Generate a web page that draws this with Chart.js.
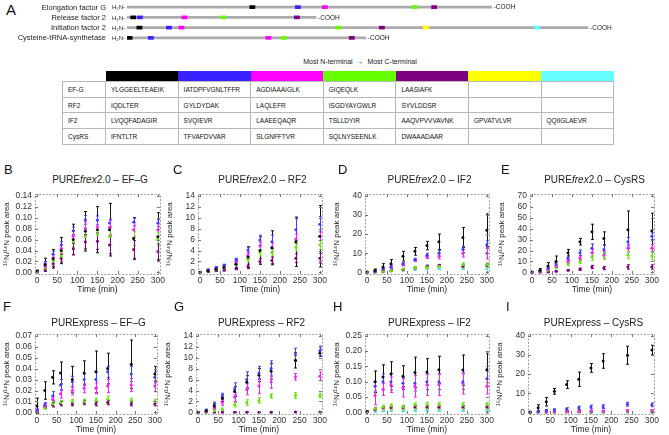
<!DOCTYPE html>
<html>
<head>
<meta charset="utf-8">
<script src="https://cdn.jsdelivr.net/npm/chart.js@4.4.0/dist/chart.umd.min.js"></script>
<style>
body { margin:0; width:669px; height:435px; overflow:hidden; background:#fff; position:relative; font-family:"Liberation Sans", Arial, sans-serif; color:#222; }
canvas { position:absolute; }
.letter { position:absolute; font-size:13px; line-height:13px; color:#111; }
.ptitle { position:absolute; font-size:10px; line-height:12px; white-space:nowrap; transform:translateX(-50%); color:#222; }
#arrowText { position:absolute; left:360px; top:58px; transform:translateX(-50%); font-size:7px; white-space:nowrap; }
#pep { position:absolute; left:62px; top:71px; border-collapse:collapse; table-layout:fixed; font-size:6.5px; color:#111; }
#pep td { border:1px solid #b8b8b8; padding:0 0 0 5px; height:14.7px; white-space:nowrap; overflow:hidden; }
#pep tr.head td { height:10px; border:none; padding:0; }
</style>
</head>
<body>
<div class="letter" style="left:6px;top:3px;font-size:15px">A</div>
<canvas id="proteins" width="669" height="46" style="left:0;top:0"></canvas>
<div id="arrowText">Most N-terminal &nbsp;→&nbsp; Most C-terminal</div>
<table id="pep"></table>

<script>
// ---- panel A data ----
const proteinNames = ["Elongation factor G", "Release factor 2", "Initiation factor 2", "Cysteine-tRNA-synthetase"];
const proteinLengths = [704, 365, 890, 461];
const rowNames = ["EF-G", "RF2", "IF2", "CysRS"];
const efgPeptides = ["YLGGEELTEAEIK", "IATDPFVGNLTFFR", "AGDIAAAIGLK", "GIQEQLK", "LAASIAFK", "", ""];
const rf2Peptides = ["IQDLTER", "GYLDYDAK", "LAQLEFR", "ISGDYAYGWLR", "SYVLDDSR", "", ""];
const if2Peptides = ["LVQQFADAGIR", "SVQIEVR", "LAAEEQAQR", "TSLLDYIR", "AAQVPVVVAVNK", "GPVATVLVR", "QQIIGLAEVR"];
const cysPeptides = ["IFNTLTR", "TFVAFDVVAR", "SLGNFFTVR", "SQLNYSEENLK", "DWAAADAAR", "", ""];
// approx residue position (centre) of each peptide, per colour, per protein [EF-G, RF2, IF2, CysRS]
const blackPos = [242, 12, 24, 5];
const bluePos = [330, 25, 81, 46];
const magentaPos = [382, 111, 105, 273];
const greenPos = [555, 186, 408, 303];
const purplePos = [593, 328, 492, 434];
const yellowPos = [null, null, 577, null];
const cyanPos = [null, null, 791, null];
const mapColors = ["#000000", "#3a22ff", "#ff00ff", "#66ff00", "#7f007f", "#ffff00", "#66ffff"];

// ---- time course data (order: black, blue, magenta, green, purple, yellow, cyan) ----
const times = [0, 20, 40, 60, 90, 120, 150, 180, 240, 300];
const xTicks = [0, 50, 100, 150, 200, 250, 300];
const dotColors = ["#111111", "#3d3dff", "#ff1aff", "#5fe800", "#800080", "#f2cc00", "#40e8e8"];

// B  PUREfrex2.0 - EF-G
const frexEfgMean = [
  [0.002,0.014,0.025,0.040,0.060,0.075,0.078,0.078,0.062,0.065],
  [0.002,0.016,0.033,0.050,0.076,0.096,0.095,0.090,0.092,0.090],
  [0.002,0.011,0.027,0.043,0.066,0.080,0.083,0.082,0.078,0.078],
  [0.001,0.008,0.021,0.030,0.056,0.066,0.070,0.066,0.062,0.060],
  [0.001,0.005,0.016,0.026,0.043,0.056,0.057,0.050,0.042,0.038]];
const frexEfgErr = [
  [0.002,0.012,0.017,0.024,0.028,0.036,0.042,0.048,0.038,0.044],
  [0.002,0.004,0.006,0.006,0.007,0.008,0.008,0.007,0.007,0.006],
  [0.002,0.004,0.006,0.008,0.010,0.012,0.013,0.013,0.013,0.011],
  [0.001,0.003,0.005,0.008,0.010,0.012,0.013,0.015,0.013,0.012],
  [0.001,0.003,0.005,0.007,0.010,0.013,0.015,0.016,0.016,0.014]];
const frexEfgTicks = [0, 0.02, 0.04, 0.06, 0.08, 0.10, 0.12, 0.14];

// C  PUREfrex2.0 - RF2
const frexRf2Mean = [
  [0.05,0.3,0.6,0.9,1.5,2.8,4.0,4.5,5.6,6.6],
  [0.05,0.5,0.9,1.3,2.3,4.1,5.9,5.6,7.8,8.8],
  [0.04,0.4,0.7,1.0,1.8,3.2,4.8,4.6,6.1,6.6],
  [0.03,0.3,0.5,0.8,1.5,2.4,3.6,3.6,4.6,5.0],
  [0.02,0.2,0.3,0.4,0.7,1.1,2.0,2.2,2.6,2.6]];
const frexRf2Err = [
  [0.03,0.2,0.3,0.5,0.8,1.9,2.5,3.1,4.5,5.6],
  [0.03,0.1,0.15,0.2,0.3,0.5,0.9,1.2,2.0,1.4],
  [0.02,0.1,0.1,0.2,0.3,0.5,0.7,0.8,0.9,0.8],
  [0.02,0.1,0.1,0.2,0.3,0.5,0.6,0.6,0.7,0.8],
  [0.01,0.1,0.1,0.1,0.2,0.4,0.5,0.6,0.8,0.9]];
const frexRf2Ticks = [0, 2, 4, 6, 8, 10, 12, 14];

// D  PUREfrex2.0 - IF2
const frexIf2Mean = [
  [0.2,1.2,2.8,4.5,8.5,11.0,14.0,16.0,18.2,22.0],
  [0.1,0.6,1.8,3.0,4.6,6.8,9.0,10.0,12.0,14.5],
  [0.1,0.4,1.5,2.6,4.2,6.5,8.0,8.5,10.0,10.0],
  [0.05,0.2,0.6,1.0,1.8,2.4,2.8,3.3,4.2,4.0],
  [0.05,0.2,0.5,1.0,1.6,2.3,3.3,3.6,3.2,3.6],
  [0.03,0.15,0.4,0.8,1.3,2.6,2.6,3.0,3.0,3.2],
  [0.02,0.1,0.3,0.6,1.0,1.5,1.8,2.0,2.0,2.0]];
const frexIf2Err = [
  [0.1,0.6,1.8,2.2,2.5,2.0,2.2,4.0,5.2,8.5],
  [0.1,0.3,0.6,0.8,0.6,0.6,1.0,1.5,1.6,2.0],
  [0.1,0.2,0.5,1.0,0.8,0.7,0.8,1.5,2.0,3.0],
  [0.05,0.1,0.2,0.3,0.3,0.4,0.5,0.6,0.8,1.0],
  [0.03,0.1,0.2,0.3,0.3,0.4,0.5,0.6,0.7,0.8],
  [0.02,0.1,0.2,0.3,0.3,0.4,0.5,0.6,0.7,0.8],
  [0.02,0.1,0.1,0.2,0.3,0.3,0.4,0.5,0.6,0.7]];
const frexIf2Ticks = [0, 10, 20, 30, 40];

// E  PUREfrex2.0 - CysRS
const frexCysMean = [
  [0.5,2.0,6.0,10.0,18.0,28.0,37.0,31.0,39.0,38.0],
  [0.3,1.5,4.0,8.0,13.0,18.0,22.0,21.0,28.0,33.0],
  [0.3,1.0,3.0,6.0,10.0,13.0,18.0,16.0,22.0,22.0],
  [0.2,0.8,2.0,5.0,8.0,10.0,14.0,15.0,16.0,15.0],
  [0.1,0.3,0.5,1.0,2.0,3.0,5.0,4.0,5.0,5.0]];
const frexCysErr = [
  [0.3,1.5,3.0,5.0,3.0,3.0,7.0,6.0,17.0,16.0],
  [0.2,0.5,1.0,2.0,2.0,2.5,4.0,4.0,4.0,3.0],
  [0.2,0.4,1.0,1.5,1.5,2.0,3.0,3.0,3.5,3.5],
  [0.1,0.3,0.8,1.5,1.5,2.0,3.0,3.0,3.5,3.5],
  [0.1,0.2,0.3,0.5,0.5,1.0,1.5,1.5,2.0,2.0]];
const frexCysTicks = [0, 10, 20, 30, 40, 50, 60, 70];

// F  PURExpress - EF-G
const purEfgMean = [
  [0.006,0.020,0.032,0.036,0.030,0.036,0.037,0.040,0.044,0.035],
  [0.002,0.007,0.015,0.025,0.028,0.030,0.030,0.037,0.035,0.032],
  [0.002,0.006,0.012,0.017,0.020,0.022,0.022,0.024,0.025,0.024],
  [0.001,0.004,0.008,0.009,0.010,0.010,0.011,0.012,0.011,0.010],
  [0.001,0.005,0.007,0.008,0.008,0.009,0.008,0.009,0.008,0.008]];
const purEfgErr = [
  [0.007,0.008,0.006,0.010,0.012,0.011,0.019,0.014,0.022,0.007],
  [0.001,0.002,0.004,0.005,0.005,0.005,0.007,0.005,0.007,0.005],
  [0.001,0.002,0.003,0.004,0.004,0.004,0.005,0.006,0.006,0.005],
  [0.001,0.001,0.002,0.002,0.002,0.002,0.002,0.003,0.002,0.002],
  [0.001,0.001,0.002,0.002,0.002,0.002,0.002,0.002,0.002,0.002]];
const purEfgTicks = [0, 0.01, 0.02, 0.03, 0.04, 0.05, 0.06, 0.07];

// G  PURExpress - RF2
const purRf2Mean = [
  [0.05,0.3,1.2,2.6,3.8,5.5,6.8,7.5,9.5,10.8],
  [0.05,0.4,1.4,2.9,4.3,6.0,7.2,8.0,10.5,11.2],
  [0.03,0.2,0.8,1.8,2.8,4.2,4.8,5.6,6.5,6.6],
  [0.02,0.1,0.3,0.6,1.4,1.8,2.2,3.0,3.1,3.1],
  [0.01,0.02,0.03,0.05,0.05,0.05,0.05,0.06,0.08,0.1]];
const purRf2Err = [
  [0.03,0.1,0.4,0.6,0.9,1.2,1.2,1.4,1.4,0.6],
  [0.05,0.2,0.5,0.6,1.1,1.4,1.2,1.4,1.2,0.9],
  [0.02,0.1,0.3,0.5,0.8,1.0,1.4,1.2,0.6,0.8],
  [0.01,0.05,0.2,0.2,0.4,0.5,0.5,0.4,0.5,0.4],
  [0.01,0.01,0.02,0.02,0.02,0.02,0.02,0.03,0.03,0.04]];
const purRf2Ticks = [0, 2, 4, 6, 8, 10, 12, 14];

// H  PURExpress - IF2
const purIf2Mean = [
  [0.003,0.100,0.115,0.125,0.118,0.130,0.132,0.139,0.138,0.139],
  [0.002,0.085,0.100,0.100,0.095,0.095,0.100,0.100,0.100,0.110],
  [0.002,0.055,0.075,0.090,0.080,0.085,0.090,0.090,0.095,0.085],
  [0.001,0.012,0.018,0.022,0.018,0.025,0.025,0.025,0.024,0.025],
  [0.001,0.010,0.015,0.016,0.015,0.018,0.018,0.017,0.018,0.018],
  [0.001,0.008,0.012,0.013,0.012,0.015,0.015,0.015,0.015,0.015],
  [0.001,0.003,0.005,0.006,0.005,0.006,0.006,0.006,0.006,0.006]];
const purIf2Err = [
  [0.002,0.035,0.040,0.040,0.034,0.050,0.043,0.044,0.049,0.054],
  [0.001,0.015,0.025,0.027,0.020,0.025,0.025,0.025,0.025,0.025],
  [0.001,0.030,0.020,0.025,0.030,0.035,0.035,0.035,0.035,0.025],
  [0.001,0.005,0.006,0.006,0.006,0.006,0.008,0.008,0.008,0.008],
  [0.001,0.004,0.004,0.005,0.005,0.005,0.005,0.005,0.005,0.005],
  [0.001,0.003,0.004,0.004,0.004,0.004,0.004,0.004,0.004,0.004],
  [0.001,0.002,0.002,0.002,0.002,0.002,0.002,0.002,0.002,0.002]];
const purIf2Ticks = [0, 0.05, 0.10, 0.15, 0.20, 0.25];

// I  PURExpress - CysRS
const purCysMean = [
  [0.2,2.5,5.6,11.0,14.5,17.3,23.2,26.8,29.8,32.5],
  [0.1,0.6,1.0,1.3,1.8,2.4,2.8,3.0,4.3,4.0],
  [0.05,0.2,0.4,0.5,0.6,0.7,0.8,0.8,1.0,1.0],
  [0.03,0.1,0.2,0.3,0.35,0.4,0.4,0.4,0.5,0.5],
  [0.02,0.1,0.1,0.15,0.2,0.2,0.2,0.2,0.2,0.2]];
const purCysErr = [
  [0.2,1.5,2.2,1.5,2.0,3.7,2.3,3.8,4.7,2.5],
  [0.05,0.3,0.5,0.6,0.6,0.9,1.0,1.0,1.0,1.0],
  [0.03,0.1,0.2,0.2,0.3,0.3,0.3,0.3,0.4,0.4],
  [0.02,0.05,0.1,0.1,0.1,0.1,0.1,0.1,0.2,0.2],
  [0.01,0.05,0.05,0.05,0.1,0.1,0.1,0.1,0.1,0.1]];
const purCysTicks = [0, 10, 20, 30, 40];

const panelTitles = ["PURE<i>frex</i>2.0 – EF–G", "PURE<i>frex</i>2.0 – RF2", "PURE<i>frex</i>2.0 – IF2", "PURE<i>frex</i>2.0 – CysRS",
  "PURExpress – EF–G", "PURExpress – RF2", "PURExpress – IF2", "PURExpress – CysRS"];
const panelLetters = ["B", "C", "D", "E", "F", "G", "H", "I"];

// ---- panel A: protein maps ----
const protLabels = {
  id: "protLabels",
  afterDatasetsDraw(chart) {
    const {ctx, scales: {x, y}} = chart;
    ctx.save();
    ctx.fillStyle = "#222";
    ctx.textBaseline = "middle";
    proteinLengths.forEach((L, i) => {
      let py = y.getPixelForValue(i) + 0.5;
      ctx.textAlign = "right";
      ctx.font = "7.5px 'Liberation Sans', Arial";
      ctx.fillText(proteinNames[i], x.getPixelForValue(0) - 21, py);
      ctx.font = "6px 'Liberation Sans', Arial";
      ctx.fillText("H\u2082N-", x.getPixelForValue(0) - 2, py);
      ctx.textAlign = "left";
      ctx.font = "6.5px 'Liberation Sans', Arial";
      ctx.fillText("-COOH", x.getPixelForValue(L) + 2, py);
    });
    ctx.restore();
  }
};

let allPos = [blackPos, bluePos, magentaPos, greenPos, purplePos, yellowPos, cyanPos];
let mapSets = [{
  data: proteinLengths.map((L, i) => ({ x: [0, L], y: i })),
  backgroundColor: "#ababab", barThickness: 2, grouped: false, order: 9
}];
allPos.forEach((pos, c) => {
  let pts = [];
  pos.forEach((p, r) => {
    if (p != null) pts.push({ x: [p - 5, p + 5], y: r });
  });
  mapSets.push({ data: pts, backgroundColor: mapColors[c], barThickness: 3, grouped: false, order: 1 });
});

new Chart(document.getElementById("proteins"), {
  type: "bar",
  data: { datasets: mapSets },
  options: {
    indexAxis: "y", responsive: false, animation: false, devicePixelRatio: 1,
    layout: { autoPadding: false, padding: { top: 2, bottom: 3, left: 127, right: 24 } },
    plugins: { legend: { display: false }, tooltip: { enabled: false } },
    scales: {
      x: { type: "linear", min: 0, max: 1000, display: false },
      y: { type: "linear", min: -0.5, max: 3.5, reverse: true, display: false, offset: false, grid: { offset: false } }
    }
  },
  plugins: [protLabels]
});

// ---- peptide table ----
let tbl = document.getElementById("pep");
let colg = "<colgroup><col style='width:43px'>";
for (let i = 0; i < 7; i++) colg += "<col style='width:72.6px'>";
let html = colg + "</colgroup><tr class='head'><td></td>";
mapColors.forEach(c => { html += "<td style='background:" + c + "'></td>"; });
html += "</tr>";
[efgPeptides, rf2Peptides, if2Peptides, cysPeptides].forEach((row, r) => {
  html += "<tr><td>" + rowNames[r] + "</td>";
  row.forEach(p => { html += "<td>" + p + "</td>"; });
  html += "</tr>";
});
tbl.innerHTML = html;

// ---- time course panels ----
const errorBars = {
  id: "errorBars",
  beforeDatasetsDraw(chart) {
    const {ctx, chartArea, scales: {x, y}} = chart;
    ctx.save();
    ctx.beginPath();
    ctx.rect(chartArea.left, chartArea.top, chartArea.width, chartArea.height);
    ctx.clip();
    ctx.lineWidth = 1;
    chart.data.datasets.forEach(ds => {
      ctx.strokeStyle = ds.borderColor;
      ds.data.forEach((p, i) => {
        let px = Math.round(x.getPixelForValue(p.x)) + 0.5;
        let lo = y.getPixelForValue(p.y - ds.err[i]);
        let hi = y.getPixelForValue(p.y + ds.err[i]);
        ctx.beginPath();
        ctx.moveTo(px, lo); ctx.lineTo(px, hi);
        ctx.moveTo(px - 1.5, lo); ctx.lineTo(px + 1.5, lo);
        ctx.moveTo(px - 1.5, hi); ctx.lineTo(px + 1.5, hi);
        ctx.stroke();
      });
    });
    ctx.restore();
  }
};

const frame = {
  id: "frame",
  afterDraw(chart) {
    const {ctx, chartArea: a, scales: {x, y}} = chart;
    ctx.save();
    ctx.strokeStyle = "#a0a0a0";
    ctx.lineWidth = 1;
    ctx.setLineDash([2, 1.5]);
    ctx.strokeRect(Math.round(a.left) + 0.5, Math.round(a.top) + 0.5, Math.round(a.width), Math.round(a.height));
    ctx.setLineDash([]);
    ctx.strokeStyle = "#777";
    ctx.beginPath();
    x.ticks.forEach(t => {
      let px = Math.round(x.getPixelForValue(t.value)) + 0.5;
      ctx.moveTo(px, a.bottom); ctx.lineTo(px, a.bottom - 3);
      ctx.moveTo(px, a.top); ctx.lineTo(px, a.top + 3);
    });
    y.ticks.forEach(t => {
      let py = Math.round(y.getPixelForValue(t.value)) + 0.5;
      ctx.moveTo(a.left, py); ctx.lineTo(a.left + 3, py);
      ctx.moveTo(a.right, py); ctx.lineTo(a.right - 3, py);
    });
    ctx.stroke();
    ctx.restore();
  }
};

// layout: plot-area left, plot-area width, row
const panels = [
  { mean: frexEfgMean, err: frexEfgErr, ticks: frexEfgTicks, dec: 2, left: 35, w: 130, row: 0, letterX: 4 },
  { mean: frexRf2Mean, err: frexRf2Err, ticks: frexRf2Ticks, dec: 0, left: 198, w: 129, row: 0, letterX: 173 },
  { mean: frexIf2Mean, err: frexIf2Err, ticks: frexIf2Ticks, dec: 0, left: 365, w: 129, row: 0, letterX: 338 },
  { mean: frexCysMean, err: frexCysErr, ticks: frexCysTicks, dec: 0, left: 530, w: 129, row: 0, letterX: 501 },
  { mean: purEfgMean, err: purEfgErr, ticks: purEfgTicks, dec: 2, left: 35, w: 127, row: 1, letterX: 3 },
  { mean: purRf2Mean, err: purRf2Err, ticks: purRf2Ticks, dec: 0, left: 196, w: 131, row: 1, letterX: 174 },
  { mean: purIf2Mean, err: purIf2Err, ticks: purIf2Ticks, dec: 2, left: 365, w: 129, row: 1, letterX: 333 },
  { mean: purCysMean, err: purCysErr, ticks: purCysTicks, dec: 0, left: 528, w: 131, row: 1, letterX: 506 }
];

const rowTop = [190, 330];
const letterTop = [163, 300];
const titleTop = [174, 317];

panels.forEach((p, k) => {
  let top = p.ticks[p.ticks.length - 1];
  let cv = document.createElement("canvas");
  cv.width = 35 + p.w + 2;
  cv.height = 4 + 84 + 24;
  cv.style.left = (p.left - 35) + "px";
  cv.style.top = (rowTop[p.row] - 4) + "px";
  document.body.appendChild(cv);

  let lt = document.createElement("div");
  lt.className = "letter";
  lt.style.left = p.letterX + "px";
  lt.style.top = letterTop[p.row] + "px";
  lt.textContent = panelLetters[k];
  document.body.appendChild(lt);

  let tt = document.createElement("div");
  tt.className = "ptitle";
  tt.style.left = (p.left + p.w / 2) + "px";
  tt.style.top = titleTop[p.row] + "px";
  tt.innerHTML = panelTitles[k];
  document.body.appendChild(tt);

  let datasets = p.mean.map((m, c) => ({
    data: times.map((t, i) => ({ x: t, y: m[i] })),
    err: p.err[c],
    backgroundColor: dotColors[c], borderColor: dotColors[c],
    pointRadius: 1.5, pointBorderWidth: 0
  }));

  new Chart(cv, {
    type: "scatter",
    data: { datasets: datasets },
    options: {
      responsive: false, animation: false, devicePixelRatio: 1,
      layout: { padding: { top: 4, right: 2, left: 0, bottom: 0 } },
      plugins: { legend: { display: false }, tooltip: { enabled: false } },
      scales: {
        x: {
          type: "linear", min: -5, max: 305,
          grid: { display: false, drawTicks: false }, border: { display: false },
          afterBuildTicks: s => { s.ticks = xTicks.map(v => ({ value: v })); },
          ticks: { autoSkip: false, maxRotation: 0, padding: 2, color: "#333", font: { size: 8.5, family: "'Liberation Sans', Arial" } },
          title: { display: true, text: "Time (min)", color: "#222", padding: { top: 0, bottom: 3 }, font: { size: 8.5, family: "'Liberation Sans', Arial" } },
          afterFit: s => { s.height = 24; }
        },
        y: {
          min: -top * 0.02, max: top * 1.02,
          grid: { display: false, drawTicks: false }, border: { display: false },
          afterBuildTicks: s => { s.ticks = p.ticks.map(v => ({ value: v })); },
          ticks: { autoSkip: false, padding: 3, color: "#333", font: { size: 8.5, family: "'Liberation Sans', Arial" },
            callback: v => v.toFixed(p.dec) },
          title: { display: true, text: "\u00b9\u2075N/\u00b9\u2074N peak area", color: "#222", padding: { top: 2, bottom: 0 }, font: { size: 8, family: "'Liberation Sans', Arial" } },
          afterFit: s => { s.width = 35; }
        }
      }
    },
    plugins: [errorBars, frame]
  });
});
</script>
</body>
</html>
